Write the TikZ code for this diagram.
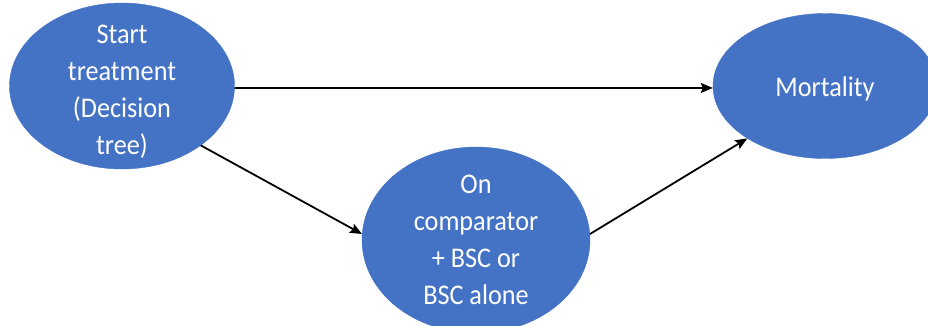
\documentclass[tikz,border=0pt]{standalone}
\usepackage{fontspec}
\setmainfont[FakeStretch=0.92]{Carlito}
\usetikzlibrary{shapes.geometric,arrows.meta}
\definecolor{stateblue}{HTML}{4472C4}
\tikzset{
  state/.style={ellipse, fill=stateblue, draw=stateblue, inner sep=0pt},
  statetext/.style={text=white, align=center, font=\fontsize{28.5}{37}\selectfont},
  link/.style={draw=black, line width=1.8pt, -{Stealth[length=12pt,width=10pt,inset=2pt]}}
}
\begin{document}
\begin{tikzpicture}[x=1pt, y=-1pt]
  \path[use as bounding box, clip] (0,0) rectangle (928,325);
  \fill[white] (0,0) rectangle (928,325);

  % states of the model
  \node[state, minimum width=225pt, minimum height=166pt,
        label={[statetext, yshift=-6pt]center:Start\\treatment\\(Decision\\tree)}]
        (start) at (122,86) {};
  \node[state, minimum width=224pt, minimum height=145pt,
        label={[statetext, yshift=-3pt]center:Mortality}]
        (mort) at (825,86) {};
  \node[state, minimum width=228pt, minimum height=186pt,
        label={[statetext]center:On\\comparator\\+ BSC or\\BSC alone}]
        (comp) at (476,240) {};

  % transitions
  \draw[link] (start.-1) -- (mort.181);
  \draw[link] (start.-37) -- (comp.177);
  \draw[link] (comp.3) -- (mort.-146);
\end{tikzpicture}
\end{document}
